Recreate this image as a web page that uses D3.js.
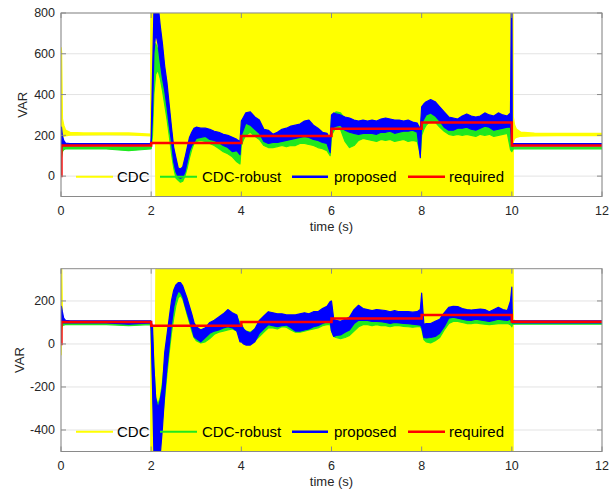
<!DOCTYPE html>
<html><head><meta charset="utf-8">
<script src="https://cdn.jsdelivr.net/npm/d3@7"></script>
<style>
body{margin:0;background:#fff}
text{font-family:"Liberation Sans",Arial,Helvetica,sans-serif}
</style>
</head><body>
<svg id="c" width="616" height="492"></svg>
<script>
// ---------------- DATA ----------------
const xTicks = [0, 2, 4, 6, 8, 10, 12];
const topYTicks = [0, 200, 400, 600, 800];
const botYTicks = [-400, -200, 0, 200];
const legendLabels = ["CDC", "CDC-robust", "proposed", "required"];

// shared time grid for CDC-robust / proposed bands
const T = [
  0, 0.01, 0.03, 0.06, 0.1, 0.2, 0.5, 1.0, 1.5, 1.99,
  2.0, 2.03, 2.06, 2.1, 2.15, 2.2, 2.25, 2.3, 2.35, 2.4, 2.45, 2.5, 2.55, 2.6, 2.65, 2.7, 2.75, 2.8, 2.85, 2.9, 2.95, 3.0,
  3.1, 3.2, 3.3, 3.4, 3.5, 3.6, 3.7, 3.8, 3.9, 3.97,
  4.0, 4.05, 4.1, 4.2, 4.3, 4.4, 4.5, 4.6, 4.7, 4.8, 4.9, 5.0, 5.1, 5.2, 5.3, 5.4, 5.5, 5.6, 5.7, 5.8, 5.9, 5.97,
  6.0, 6.05, 6.1, 6.2, 6.3, 6.4, 6.5, 6.6, 6.7, 6.8, 6.9, 7.0, 7.1, 7.2, 7.3, 7.4, 7.5, 7.6, 7.7, 7.8, 7.9, 7.97,
  8.0, 8.05, 8.1, 8.2, 8.3, 8.4, 8.5, 8.6, 8.7, 8.8, 8.9, 9.0, 9.1, 9.2, 9.3, 9.4, 9.5, 9.6, 9.7, 9.8, 9.9, 9.97,
  10.0, 10.01, 10.03, 10.06, 10.1, 10.2, 10.5, 11, 11.5, 12
];

// ---- top panel ----
const topBlueLo = [
  0, 140, 150, 150, 150, 150, 150, 151, 150, 151,
  150, 300, 600, 700, 650, 560, 480, 420, 340, 250, 170, 70, 20, -5, -10, -5, 20, 70, 120, 150, 165, 185,
  190, 195, 180, 175, 165, 150, 140, 120, 125, 105,
  200, 230, 260, 250, 230, 210, 170, 160, 165, 165, 170, 175, 180, 185, 190, 195, 190, 180, 175, 165, 160, 115,
  230, 240, 245, 250, 225, 215, 210, 205, 210, 210, 210, 205, 215, 215, 220, 210, 215, 220, 220, 225, 215, 90,
  260, 280, 300, 310, 295, 270, 240, 225, 225, 235, 235, 240, 230, 225, 235, 245, 240, 225, 230, 235, 240, 240,
  150, 148, 148, 149, 149, 149, 149, 149, 149, 149
];
const topBlueHi = [
  10, 240, 200, 175, 162, 160, 160, 160, 160, 160,
  190, 500, 800, 900, 850, 740, 650, 540, 460, 350, 240, 140, 90, 40, 35, 45, 90, 140, 190, 215, 235, 240,
  235, 235, 230, 220, 215, 205, 200, 190, 180, 170,
  270, 290, 310, 315, 290, 275, 230, 225, 205, 215, 230, 235, 245, 250, 255, 270, 275, 250, 235, 215, 210, 180,
  300, 310, 305, 300, 290, 285, 275, 270, 275, 270, 275, 270, 280, 285, 280, 275, 275, 270, 275, 265, 260, 230,
  340, 355, 365, 375, 365, 340, 315, 290, 285, 280, 295, 305, 295, 290, 295, 310, 300, 295, 310, 300, 295, 310,
  1200, 160, 160, 159, 159, 159, 159, 159, 159, 159
];
const topGreenLo = [
  0, 90, 120, 130, 133, 133, 133, 133, 125, 133,
  135, 200, 400, 500, 520, 480, 420, 350, 280, 200, 110, 40, -10, -20, -30, -25, 0, 40, 90, 130, 160, 170,
  175, 170, 160, 150, 135, 120, 110, 95, 70, 60,
  150, 180, 200, 215, 195, 180, 150, 140, 140, 145, 150, 145, 150, 150, 160, 160, 155, 150, 140, 135, 125, 100,
  200, 220, 240, 230, 170, 140, 150, 175, 185, 180, 175, 170, 180, 175, 180, 170, 175, 180, 170, 175, 170, 110,
  200, 230, 250, 270, 265, 240, 220, 205, 200, 205, 200, 205, 200, 195, 205, 200, 205, 195, 200, 205, 210, 130,
  120, 125, 133, 134, 134, 134, 134, 134, 134, 134
];
const topGreenHi = [
  10, 180, 160, 148, 145, 143, 143, 143, 143, 143,
  150, 350, 600, 650, 620, 600, 540, 470, 400, 320, 220, 130, 70, 30, 20, 25, 60, 110, 160, 200, 225, 230,
  230, 225, 215, 205, 195, 185, 175, 170, 160, 150,
  220, 250, 270, 280, 260, 240, 210, 200, 190, 200, 210, 215, 225, 230, 235, 245, 245, 230, 215, 200, 195, 170,
  280, 300, 315, 310, 280, 260, 250, 255, 255, 255, 255, 250, 255, 265, 260, 255, 255, 250, 255, 245, 240, 220,
  300, 320, 330, 340, 335, 315, 290, 270, 265, 260, 270, 280, 270, 265, 270, 280, 275, 270, 285, 280, 275, 280,
  200, 145, 143, 142, 142, 142, 142, 142, 142, 142
];

// ---- bottom panel ----
const botBlueLo = [
  0, 110, 100, 98, 98, 98, 98, 98, 92, 98,
  60, -200, -500, -600, -600, -520, -390, -230, -110, -10, 90, 170, 220, 245, 240, 220, 180, 145, 110, 75, 35, 25,
  10, 30, 50, 60, 65, 75, 80, 75, 60, 10,
  10, 0, -5, -5, 10, 50, 70, 90, 85, 80, 85, 88, 75, 60, 60, 65, 70, 80, 85, 95, 104, 110,
  60, 35, 40, 42, 55, 65, 95, 110, 110, 110, 105, 105, 104, 100, 95, 100, 98, 96, 95, 92, 90, 88,
  80, 30, 28, 30, 35, 50, 80, 120, 125, 120, 115, 111, 110, 115, 112, 108, 105, 110, 115, 112, 110, 115,
  100, 98, 98, 98, 98, 98, 98, 98, 98, 98
];
const botBlueHi = [
  10, 175, 150, 120, 110, 108, 108, 108, 108, 108,
  105, 80, -100, -250, -300, -260, -200, -40, 40, 120, 200, 250, 275, 285, 285, 270, 240, 210, 175, 140, 100, 80,
  65, 75, 100, 110, 125, 140, 160, 145, 135, 80,
  90, 70, 60, 50, 70, 110, 130, 150, 145, 140, 140, 135, 135, 135, 140, 145, 140, 150, 150, 165, 175, 197,
  200, 115, 110, 105, 115, 125, 160, 180, 165, 160, 155, 160, 158, 155, 150, 155, 150, 150, 150, 148, 150, 160,
  236, 90, 95, 95, 105, 115, 145, 170, 175, 174, 165, 160, 158, 160, 162, 160, 150, 160, 170, 160, 155, 200,
  265, 110, 108, 108, 108, 108, 108, 108, 108, 108
];
const botGreenLo = [
  0, 80, 85, 88, 90, 90, 90, 90, 85, 90,
  60, -150, -350, -450, -470, -450, -350, -250, -140, -40, 50, 120, 180, 215, 225, 210, 175, 135, 100, 60, 30, 15,
  5, 10, 25, 45, 55, 60, 65, 70, 60, 40,
  30, 10, 0, 5, 15, 35, 55, 75, 75, 70, 80, 78, 65, 55, 55, 60, 65, 70, 75, 85, 90, 90,
  60, 35, 30, 25, 30, 40, 60, 80, 90, 90, 85, 90, 85, 85, 80, 85, 85, 82, 80, 78, 80, 80,
  70, 20, 10, 5, 15, 30, 65, 95, 105, 105, 100, 95, 95, 98, 95, 92, 90, 92, 95, 95, 95, 90,
  80, 88, 92, 92, 92, 92, 92, 92, 92, 92
];
const botGreenHi = [
  10, 150, 120, 105, 100, 100, 100, 100, 100, 100,
  100, 40, -100, -250, -280, -250, -180, -80, 0, 80, 160, 220, 250, 265, 270, 260, 230, 195, 160, 120, 85, 65,
  50, 55, 75, 95, 110, 125, 140, 140, 125, 100,
  90, 70, 60, 55, 70, 95, 115, 135, 135, 130, 135, 130, 125, 125, 130, 135, 135, 140, 140, 150, 160, 170,
  150, 100, 90, 80, 85, 100, 130, 155, 150, 145, 140, 145, 140, 140, 135, 140, 138, 135, 135, 132, 135, 140,
  180, 80, 80, 80, 90, 100, 130, 150, 155, 155, 150, 145, 145, 145, 148, 145, 140, 145, 150, 148, 145, 150,
  160, 100, 100, 100, 100, 100, 100, 100, 100, 100
];

// CDC (yellow) envelope — oscillates through the whole range between 2.13 s and 10 s
const cdcTime = [0, 0.01, 0.03, 0.06, 0.1, 0.2, 0.5, 1.0, 1.5, 1.99, 2.0, 2.03, 2.06, 2.1, 2.13, 10.02, 10.03, 10.06, 10.1, 10.2, 10.5, 11, 11.5, 12];
const topCdcLo = [0, 170, 190, 195, 198, 202, 203, 204, 203, 198, 190, 160, 160, 170, -1000, -1000, 170, 185, 190, 196, 198, 199, 199, 199];
const topCdcHi = [630, 610, 280, 250, 225, 214, 212, 212, 211, 205, 1200, 1200, 1200, 1200, 1200, 1200, 290, 250, 230, 215, 210, 209, 209, 209];
const botCdcLo = [-50, 60, 90, 95, 97, 97, 97, 97, 97, 97, -1000, -1000, -1000, -1000, -1000, -1000, 90, 95, 97, 98, 98, 98, 98, 98];
const botCdcHi = [900, 400, 130, 110, 105, 105, 105, 105, 105, 104, 95, 85, 85, 85, 1200, 1200, 115, 108, 105, 104, 104, 104, 104, 104];

// required (step)
const reqTime = [0, 0.01, 2, 4, 6, 8, 10, 12];
const topReq = [0, 150, 163, 197, 232, 263, 150, 150];
const botReq = [0, 102, 85, 102, 119, 135, 103, 103];

// ---------------- CHECKS ----------------
[topBlueLo, topBlueHi, topGreenLo, topGreenHi, botBlueLo, botBlueHi, botGreenLo, botGreenHi].forEach((a, i) => {
  if (a.length !== T.length) throw new Error("band array " + i + " length " + a.length + " != " + T.length);
});
[topCdcLo, topCdcHi, botCdcLo, botCdcHi].forEach((a, i) => {
  if (a.length !== cdcTime.length) throw new Error("cdc array " + i + " length " + a.length);
});

// ---------------- DRAW ----------------
const svg = d3.select("#c");
const left = 61, right = 602;
const x = d3.scaleLinear().domain([0, 12]).range([left, right]);
const colors = {cdc: "#ffff00", robust: "#1fe81f", proposed: "#0000ff", required: "#ff0000"};
const axisCol = "#8a8a8a", textCol = "#262626";

function panel(o) {
  const y = d3.scaleLinear().domain(o.domain).range([o.bottom, o.top]);
  const g = svg.append("g");
  const cid = "clip" + o.id;
  svg.append("clipPath").attr("id", cid).append("rect")
    .attr("x", left).attr("y", o.top).attr("width", right - left).attr("height", o.bottom - o.top);

  // grid
  g.selectAll(".gy").data(o.yTicks).join("line")
    .attr("x1", left).attr("x2", right).attr("y1", d => y(d)).attr("y2", d => y(d))
    .attr("stroke", "#e3e3e3").attr("stroke-width", 1);
  g.selectAll(".gx").data(xTicks).join("line")
    .attr("y1", o.top).attr("y2", o.bottom).attr("x1", d => x(d)).attr("x2", d => x(d))
    .attr("stroke", "#e3e3e3").attr("stroke-width", 1);

  const data = g.append("g").attr("clip-path", `url(#${cid})`);
  const band = (tArr, lo, hi) => tArr.map((t, i) => ({t, lo: lo[i], hi: hi[i]}));
  const area = d3.area().x(d => x(d.t)).y0(d => y(d.lo)).y1(d => y(d.hi));

  data.append("path").datum(band(cdcTime, o.cdcLo, o.cdcHi)).attr("d", area)
    .attr("fill", colors.cdc).attr("stroke", colors.cdc).attr("stroke-width", 1.5).attr("stroke-linejoin", "round");
  data.append("path").datum(band(T, o.greenLo, o.greenHi)).attr("d", area)
    .attr("fill", colors.robust).attr("stroke", colors.robust).attr("stroke-width", 1.2).attr("stroke-linejoin", "round");
  data.append("path").datum(band(T, o.blueLo, o.blueHi)).attr("d", area)
    .attr("fill", colors.proposed).attr("stroke", colors.proposed).attr("stroke-width", 1.2).attr("stroke-linejoin", "round");
  const line = d3.line().x(d => x(d.t)).y(d => y(d.v)).curve(d3.curveStepAfter);
  data.append("path").datum(reqTime.map((t, i) => ({t, v: o.req[i]}))).attr("d", line)
    .attr("fill", "none").attr("stroke", colors.required).attr("stroke-width", 2.5);

  // box + ticks
  g.append("rect").attr("x", left).attr("y", o.top).attr("width", right - left).attr("height", o.bottom - o.top)
    .attr("fill", "none").attr("stroke", axisCol).attr("stroke-width", 1);
  const tl = 5;
  o.yTicks.forEach(v => {
    g.append("line").attr("x1", left).attr("x2", left + tl).attr("y1", y(v)).attr("y2", y(v)).attr("stroke", axisCol);
    g.append("line").attr("x1", right).attr("x2", right - tl).attr("y1", y(v)).attr("y2", y(v)).attr("stroke", axisCol);
  });
  xTicks.forEach(v => {
    g.append("line").attr("x1", x(v)).attr("x2", x(v)).attr("y1", o.bottom).attr("y2", o.bottom - tl).attr("stroke", axisCol);
    g.append("line").attr("x1", x(v)).attr("x2", x(v)).attr("y1", o.top).attr("y2", o.top + tl).attr("stroke", axisCol);
  });

  // tick labels
  g.selectAll(".yl").data(o.yTicks).join("text")
    .attr("x", left - 6).attr("y", d => y(d)).attr("dy", "0.35em").attr("text-anchor", "end")
    .attr("font-size", 12.5).attr("fill", textCol).text(d => d);
  g.selectAll(".xl").data(xTicks).join("text")
    .attr("x", d => x(d)).attr("y", o.bottom + 18.5).attr("text-anchor", "middle")
    .attr("font-size", 12.5).attr("fill", textCol).text(d => d);

  // axis labels
  g.append("text").attr("x", (left + right) / 2).attr("y", o.bottom + 34.5).attr("text-anchor", "middle")
    .attr("font-size", 13).attr("fill", textCol).text("time (s)");
  g.append("text").attr("transform", `translate(${o.ylabX},${(o.top + o.bottom) / 2}) rotate(-90)`)
    .attr("text-anchor", "middle").attr("font-size", 13).attr("fill", textCol).text("VAR");

  // legend
  const ly = o.legendY;
  const items = [
    {x1: 76, x2: 113, tx: 117, c: colors.cdc, w: 2},
    {x1: 160, x2: 197, tx: 202, c: colors.robust, w: 2},
    {x1: 292, x2: 328, tx: 334, c: colors.proposed, w: 2.5},
    {x1: 408, x2: 445, tx: 449, c: colors.required, w: 2.5}
  ];
  items.forEach((it, i) => {
    g.append("line").attr("x1", it.x1).attr("x2", it.x2).attr("y1", ly).attr("y2", ly)
      .attr("stroke", it.c).attr("stroke-width", it.w);
    g.append("text").attr("x", it.tx).attr("y", ly).attr("dy", "0.36em")
      .attr("font-size", 15).attr("fill", "#000").text(legendLabels[i]);
  });
}

panel({id: "top", top: 13, bottom: 196.5, domain: [-100, 800], yTicks: topYTicks,
  cdcLo: topCdcLo, cdcHi: topCdcHi, greenLo: topGreenLo, greenHi: topGreenHi,
  blueLo: topBlueLo, blueHi: topBlueHi, req: topReq, legendY: 176.7, ylabX: 27});
panel({id: "bot", top: 268.7, bottom: 451.5, domain: [-500, 350], yTicks: botYTicks,
  cdcLo: botCdcLo, cdcHi: botCdcHi, greenLo: botGreenLo, greenHi: botGreenHi,
  blueLo: botBlueLo, blueHi: botBlueHi, req: botReq, legendY: 431.7, ylabX: 24});
</script>
</body></html>
